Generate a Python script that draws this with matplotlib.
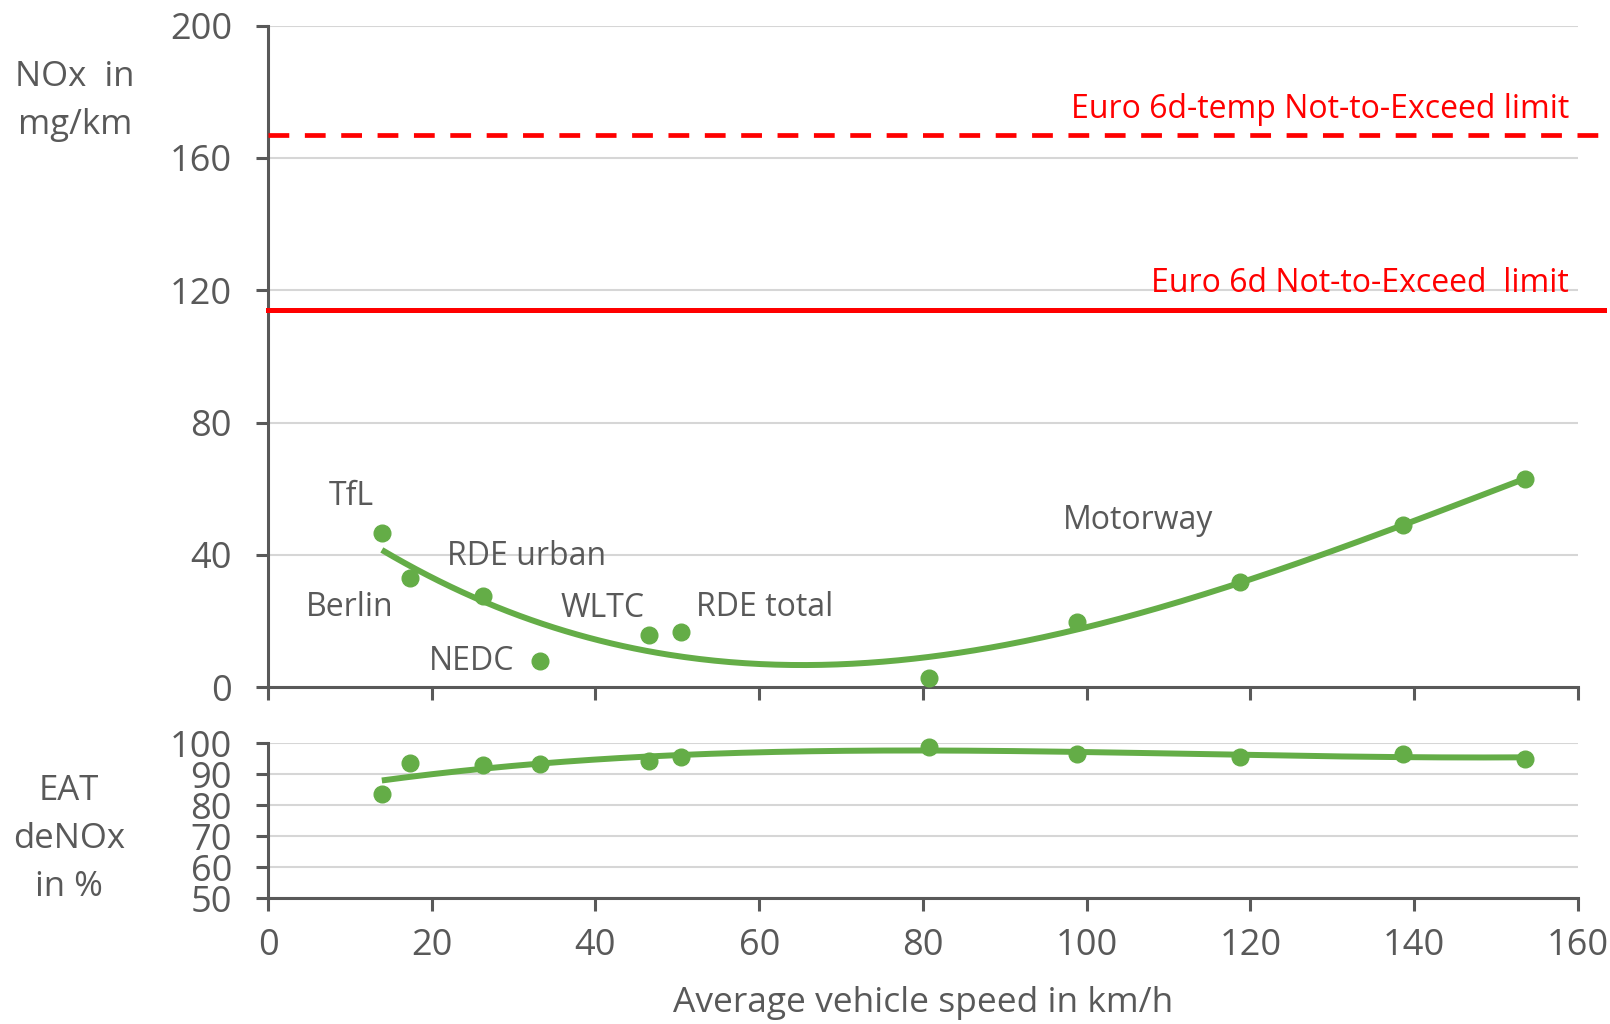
import numpy as np
import matplotlib
matplotlib.use("Agg")
import matplotlib.pyplot as plt

plt.rcParams['font.family'] = ['Open Sans', 'DejaVu Sans']

# ---- data ----
speed = [13.9, 17.3, 26.3, 33.2, 46.5, 50.5, 80.8, 98.8, 118.7, 138.7, 153.6]
nox = [46.6, 32.9, 27.6, 7.8, 15.8, 16.8, 2.8, 19.6, 31.7, 49.1, 63.0]
denox = [83.8, 93.7, 93.0, 93.4, 94.4, 95.7, 99.0, 96.7, 95.7, 96.7, 95.0]

labels = ["TfL", "Berlin", "RDE urban", "NEDC", "WLTC", "RDE total", "Motorway"]
label_x = [10.2, 10.0, 31.6, 24.9, 40.9, 60.7, 106.3]
label_y = [57.5, 24.2, 39.4, 7.8, 23.9, 24.2, 50.3]

limit_temp = 167.0
limit_6d = 114.0
limit_temp_text = "Euro 6d-temp Not-to-Exceed limit"
limit_6d_text = "Euro 6d Not-to-Exceed  limit"

x_ticks = [0, 20, 40, 60, 80, 100, 120, 140, 160]
top_yticks = [0, 40, 80, 120, 160, 200]
bot_yticks = [50, 60, 70, 80, 90, 100]

GREEN = '#64ad47'
GRAY = '#595959'
GRID = '#d6d6d6'
RED = '#ff0000'
FS = 23
TFS = 26

fig = plt.figure(figsize=(16.10, 10.24), dpi=100)
ax1 = fig.add_axes([0.1665, 0.329, 0.8135, 0.646])
ax2 = fig.add_axes([0.1665, 0.1226, 0.8135, 0.1514])

for ax in (ax1, ax2):
    ax.set_xlim(0, 160)
    ax.set_xticks(x_ticks)
    for s in ('top', 'right'):
        ax.spines[s].set_visible(False)
    for s in ('left', 'bottom'):
        ax.spines[s].set_color(GRAY)
        ax.spines[s].set_linewidth(2.2)
    ax.tick_params(axis='both', direction='out', length=9, width=2.2,
                   color=GRAY, labelcolor=GRAY, labelsize=TFS)
    ax.tick_params(axis='y', pad=17)
    ax.tick_params(axis='x', pad=12)
    ax.grid(axis='y', color=GRID, linewidth=1.5, zorder=0)
    ax.set_axisbelow(True)

ax1.set_ylim(0, 200)
ax1.set_yticks(top_yticks)
ax1.tick_params(axis='x', labelbottom=False)
ax2.set_ylim(50, 100)
ax2.set_yticks(bot_yticks)

sx = np.array(speed)
xs = np.linspace(sx.min(), sx.max(), 300)

# top: NOx
c1 = np.polyfit(sx, np.array(nox), 3)
ax1.plot(xs, np.polyval(c1, xs), color=GREEN, lw=4.3, solid_capstyle='butt', zorder=3)
ax1.plot(speed, nox, 'o', color=GREEN, ms=12, zorder=4)

ax1.plot([0, 163.2], [limit_temp, limit_temp], color=RED, lw=3.4, ls=(0, (4.4, 3.3)),
         clip_on=False, zorder=3)
ax1.plot([0, 163.2], [limit_6d, limit_6d], color=RED, lw=3.6, clip_on=False, zorder=3)
ax1.text(158.9, 174.5, limit_temp_text, color=RED, fontsize=FS, ha='right', va='center')
ax1.text(158.9, 122.0, limit_6d_text, color=RED, fontsize=FS, ha='right', va='center')

for t, x, y in zip(labels, label_x, label_y):
    ax1.text(x, y, t, color=GRAY, fontsize=FS, ha='center', va='center')

# bottom: deNOx
c2 = np.polyfit(sx, np.array(denox), 3)
ax2.plot(xs, np.polyval(c2, xs), color=GREEN, lw=4.3, solid_capstyle='butt', zorder=3)
ax2.plot(speed, denox, 'o', color=GREEN, ms=12, zorder=4, clip_on=False)

ax2.set_xlabel("Average vehicle speed in km/h", color=GRAY, fontsize=25.5, labelpad=16)

fig.text(75 / 1610, 1 - 101 / 1024, "NOx  in\nmg/km", color=GRAY, fontsize=25,
         ha='center', va='center', linespacing=1.52)
fig.text(69 / 1610, 1 - 839 / 1024, "EAT\ndeNOx\nin %", color=GRAY, fontsize=25,
         ha='center', va='center', linespacing=1.52)

fig.savefig("out.png", dpi=100)
